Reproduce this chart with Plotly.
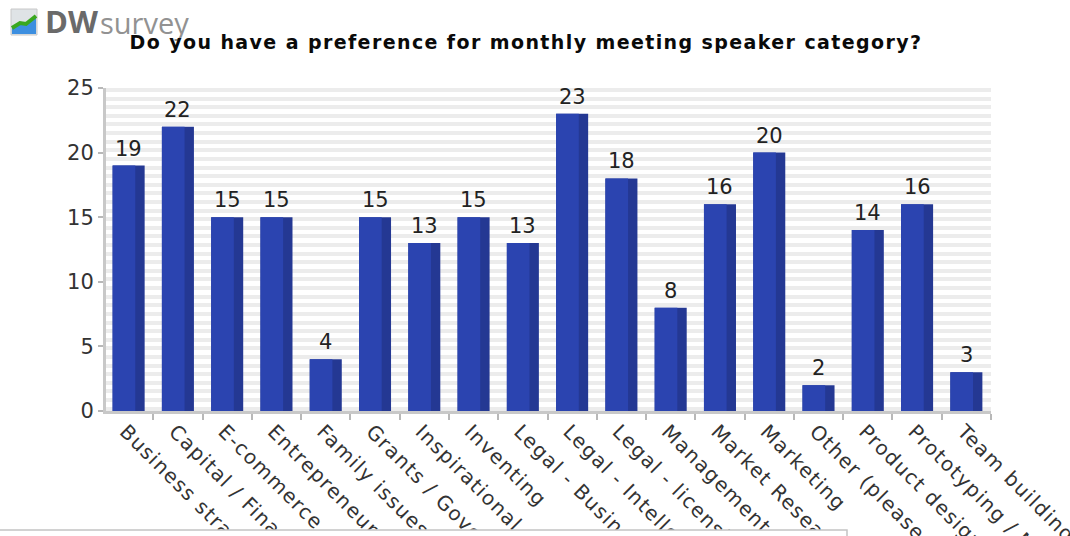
import plotly.graph_objects as go

categories = ["Business strategy", "Capital / Financing", "E-commerce", "Entrepreneurship",
              "Family issues", "Grants / Government", "Inspirational / Motivational", "Inventing",
              "Legal - Business", "Legal - Intellectual property", "Legal - licensing", "Management",
              "Market Research", "Marketing", "Other (please specify)", "Product design",
              "Prototyping / Manufacturing", "Team building"]
values = [19, 22, 15, 15, 4, 15, 13, 15, 13, 23, 18, 8, 16, 20, 2, 14, 16, 3]
title_text = "Do you have a preference for monthly meeting speaker category?"
y_ticks = [0, 5, 10, 15, 20, 25]

W, H = 1070, 536
L, R, T, B = 106, 991, 88, 411
def px(x): return (x - L) / (R - L)
def py(y): return (B - y) / (B - T)

font = "DejaVu Sans"
fig = go.Figure()
fig.add_bar(x=categories, y=values, width=0.65, offset=-0.325, marker_color="#243893",
            marker_line_width=0, hoverinfo="skip")
fig.add_bar(x=categories, y=values, width=0.46, offset=-0.325, marker_color="#2b44b0",
            marker_line_width=0, hoverinfo="skip")

shapes = [
    dict(type="rect", xref="paper", yref="paper", x0=px(-5), x1=px(847), y0=py(530), y1=py(560),
         fillcolor="white", line=dict(color="#c4c4c4", width=1.5), layer="above"),
    dict(type="rect", xref="paper", yref="paper", x0=px(11), x1=px(37), y0=py(35), y1=py(9),
         fillcolor="#dfe3e6", line=dict(color="#c8c8c8", width=1), layer="above"),
    dict(type="path", xref="paper", yref="paper", layer="above", line_width=0, fillcolor="#3d8fe0",
         path=f"M {px(12)} {py(34)} L {px(12)} {py(28)} L {px(20)} {py(24)} L {px(26)} {py(25)} "
              f"L {px(36)} {py(17)} L {px(36)} {py(34)} Z"),
    dict(type="path", xref="paper", yref="paper", layer="above",
         path=f"M {px(12)} {py(28)} L {px(20)} {py(23)} L {px(26)} {py(24)} L {px(36)} {py(16)}",
         line=dict(color="#3aa81f", width=4)),
]
annotations = [
    dict(text="<b>DW</b>", xref="paper", yref="paper", x=px(43), y=py(21), showarrow=False,
         xanchor="left", yanchor="middle", font=dict(family="Open Sans", size=31, color="#6a6a6a")),
    dict(text="survey", xref="paper", yref="paper", x=px(98), y=py(23), showarrow=False,
         xanchor="left", yanchor="middle", font=dict(family="Open Sans", size=29, color="#929292")),
    dict(text=f"<b>{title_text}</b>", xref="paper", yref="paper", x=px(526), y=py(42), showarrow=False,
         xanchor="center", yanchor="middle", font=dict(family=font, size=19, color="#0a0a0a")),
]
for cat, val in zip(categories, values):
    annotations.append(dict(text=str(val), x=cat, y=val, xref="x", yref="y", showarrow=False,
                            xanchor="center", yanchor="bottom", yshift=3, xshift=0,
                            font=dict(family=font, size=21, color="#222222")))

x_pad = (L - 104) / ((R - 104) / 18)
fig.update_layout(
    width=W, height=H, margin=dict(l=L, r=W - R, t=T, b=H - B),
    barmode="overlay", showlegend=False, plot_bgcolor="white", paper_bgcolor="white",
    shapes=shapes, annotations=annotations,
    xaxis=dict(type="category", tickson="boundaries", ticks="outside", ticklen=6, tickwidth=2,
               automargin=False, ticklabelshift=-3, ticklabelstandoff=-2,
               tickcolor="#b8b8b8", tickangle=45, showline=True, linecolor="#c8c8c8", linewidth=3,
               showgrid=False, range=[-0.5 + x_pad, 17.5], tickfont=dict(family=font, size=20, color="#333333")),
    yaxis=dict(range=[0, 25], tickvals=y_ticks, ticks="outside", ticklen=5, tickwidth=2, automargin=False,
               tickcolor="#b8b8b8", showline=True, linecolor="#c8c8c8", linewidth=3,
               showgrid=False, zeroline=False, tickfont=dict(family=font, size=21, color="#333333"),
               minor=dict(tick0=0.18, dtick=2 / 3, showgrid=True, gridcolor="#ececec", gridwidth=4)),
)
post = """
document.body.style.margin='0';
document.querySelectorAll('.annotation-text').forEach(function(t){
  if (t.textContent.indexOf('Do you')===0) t.style.letterSpacing='1.4px';
});
document.querySelectorAll('.xtick text').forEach(function(t){ t.style.letterSpacing='1.3px'; });
"""
fig.write_html("out.html", config=dict(displayModeBar=False), post_script=post)
